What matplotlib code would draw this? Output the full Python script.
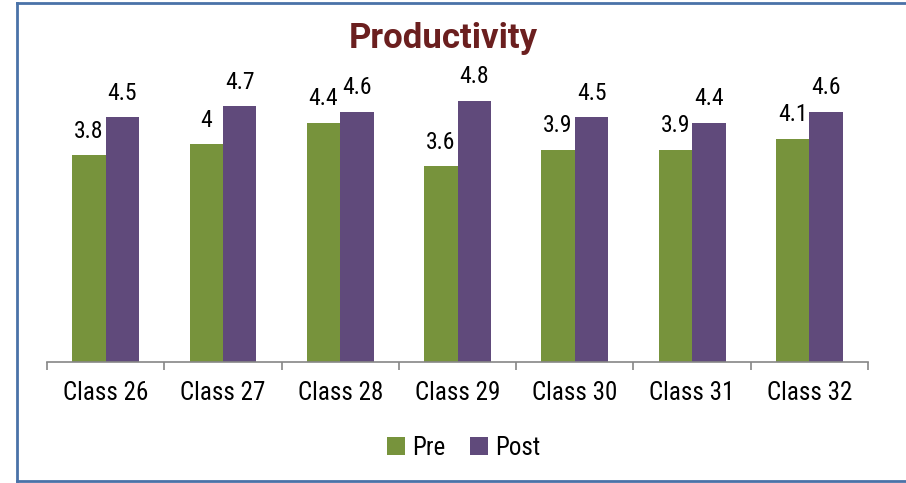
import numpy as np
from matplotlib import pyplot as plt
from matplotlib.lines import Line2D
import matplotlib.font_manager as fm

# look for a narrow regular face, the reference uses an Arial Narrow look
def is_narrow(f):
    return ("Narrow" in f.name or "Condensed" in f.name
            or f.stretch in ("condensed", "semi-condensed", 75, 87.5))

def is_regular(f):
    return f.weight in (400, "normal", "regular", "book") and f.style == "normal"

cands = [f for f in fm.fontManager.ttflist if is_narrow(f) and is_regular(f)]
pref = ["Liberation", "Arial", "Roboto", "DejaVu", "Open Sans", "Noto Sans"]
cands.sort(key=lambda f: next((i for i, p in enumerate(pref) if p in f.name), 99))
if cands:
    plt.rcParams['font.family'] = [cands[0].name, 'DejaVu Sans']
    plt.rcParams['font.stretch'] = cands[0].stretch
else:
    plt.rcParams['font.family'] = ['DejaVu Sans']

# data
classes = ["Class 26", "Class 27", "Class 28", "Class 29", "Class 30", "Class 31", "Class 32"]
pre = [3.8, 4, 4.4, 3.6, 3.9, 3.9, 4.1]
post = [4.5, 4.7, 4.6, 4.8, 4.5, 4.4, 4.6]

green = "#77933C"
purple = "#604A7B"

fig = plt.figure(figsize=(9.06, 4.83), dpi=100)
ax = fig.add_axes([0.0519, 0.2505, 0.9062, 0.5631])

x = np.arange(len(classes))
w = 0.285
b1 = ax.bar(x - w / 2, pre, w, color=green, label="Pre")
b2 = ax.bar(x + w / 2, post, w, color=purple, label="Post")

for bars, vals in ((b1, pre), (b2, post)):
    for r, v in zip(bars, vals):
        ax.annotate(f"{v:g}", (r.get_x() + r.get_width() / 2, r.get_height()),
                    xytext=(0, 9), textcoords="offset points",
                    ha="center", va="bottom", fontsize=17)

ax.set_xlim(-0.5, len(classes) - 0.5)
ax.set_ylim(0, 5)
for s in ("top", "right", "left"):
    ax.spines[s].set_visible(False)
ax.spines["bottom"].set_color("#868686")
ax.spines["bottom"].set_linewidth(1.2)
ax.set_yticks([])
ax.set_xticks(x)
ax.set_xticklabels(classes, fontsize=18)
ax.tick_params(axis="x", which="major", length=0, pad=14)
ax.set_xticks(np.arange(-0.5, len(classes)), minor=True)
ax.tick_params(axis="x", which="minor", length=6, color="#868686", width=1.2)

# title is a wider face than the rest
fig.text(0.489, 0.921, "Productivity", ha="center", va="center",
         fontsize=25, fontweight="semibold", color="#6B1F1F",
         family=["Roboto", "DejaVu Sans"], fontstretch="normal")

fig.legend(handles=[b1, b2], loc="center", bbox_to_anchor=(0.512, 0.073),
           ncol=2, frameon=False, fontsize=18, handlelength=0.7, handleheight=0.7,
           handletextpad=0.3, columnspacing=1.0)

# outer frame (right edge runs off the picture)
for xs, ys in (([0.019, 0.019], [0.004, 0.993]),
               ([0.019, 1.0], [0.993, 0.993]),
               ([0.019, 1.0], [0.004, 0.004])):
    fig.add_artist(Line2D(xs, ys, transform=fig.transFigure, color="#4A72A8", lw=2))

plt.savefig("out.png")
